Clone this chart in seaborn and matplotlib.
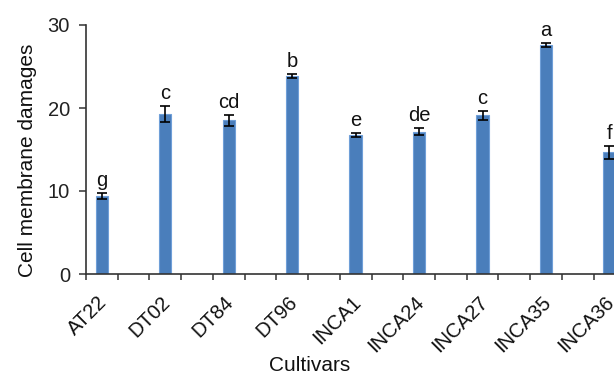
import numpy as np
import pandas as pd
import matplotlib
matplotlib.use('Agg')
import matplotlib.pyplot as plt
import matplotlib.transforms as mtransforms
import seaborn as sns

# Datos
cultivars = ['AT22', 'DT02', 'DT84', 'DT96', 'INCA1', 'INCA24', 'INCA27', 'INCA35', 'INCA36']
damage = [9.4, 19.3, 18.5, 23.9, 16.75, 17.15, 19.1, 27.6, 14.65]
err = [0.4, 0.95, 0.7, 0.25, 0.25, 0.45, 0.5, 0.2, 0.8]
letters = ['g', 'c', 'cd', 'b', 'e', 'de', 'c', 'a', 'f']

df = pd.DataFrame({'Cultivar': cultivars, 'Damage': damage})

sns.set_theme(style='ticks')
plt.rcParams['font.family'] = ['Liberation Sans', 'DejaVu Sans']

fig = plt.figure(figsize=(6.14, 3.73), dpi=100)
# el eje se sale por la derecha, como en la figura original recortada
ax = fig.add_axes([86 / 614, 99 / 373, 571 / 614, 249 / 373])

sns.barplot(data=df, x='Cultivar', y='Damage', order=cultivars,
            color='#4a7ebb', saturation=1, width=0.194, errorbar=None,
            edgecolor='#6f9fd8', linewidth=0.8, ax=ax)
ax.errorbar(range(len(cultivars)), damage, yerr=err, fmt='none',
            ecolor='black', elinewidth=1.2, capsize=3.5, capthick=1.2)

# letras de significancia
for i, (m, e, l) in enumerate(zip(damage, err, letters)):
    ax.annotate(l, (i, m + e), xytext=(0, 7), textcoords='offset pixels',
                ha='center', va='baseline', fontsize=14.5, color='#111111')

ax.set_xlim(-0.25, 8.75)
ax.set_ylim(0, 30)
ax.set_yticks([0, 10, 20, 30])
ax.set_xticks(range(len(cultivars)))
ax.set_xticklabels(cultivars, rotation=45, ha='right', va='center',
                   rotation_mode='anchor')
ax.set_xticks(np.arange(-0.25, 8.8, 0.5), minor=True)

ax.tick_params(axis='x', which='major', length=0, pad=18, labelsize=14.5,
               labelcolor='#111111')
ax.tick_params(axis='x', which='minor', length=4.3, width=1.1, color='#333333')
ax.tick_params(axis='y', length=5, width=1.1, color='#333333', pad=6.5,
               labelsize=14.5, labelcolor='#222222')

# desplazar las etiquetas un poco a la derecha
shift = mtransforms.ScaledTranslation(2 / 100, 0, fig.dpi_scale_trans)
for lab in ax.get_xticklabels():
    lab.set_transform(lab.get_transform() + shift)

for s in ['left', 'bottom']:
    ax.spines[s].set_linewidth(1.2)
    ax.spines[s].set_color('#333333')
sns.despine(ax=ax)

ax.set_ylabel('Cell membrane damages', fontsize=15, color='#111111')
ax.set_xlabel('Cultivars', fontsize=15, color='#111111', va='baseline')
ax.yaxis.set_label_coords(-0.0863, 0.456)
ax.xaxis.set_label_coords(0.392, -0.388)

fig.savefig('out.png', dpi=100)
